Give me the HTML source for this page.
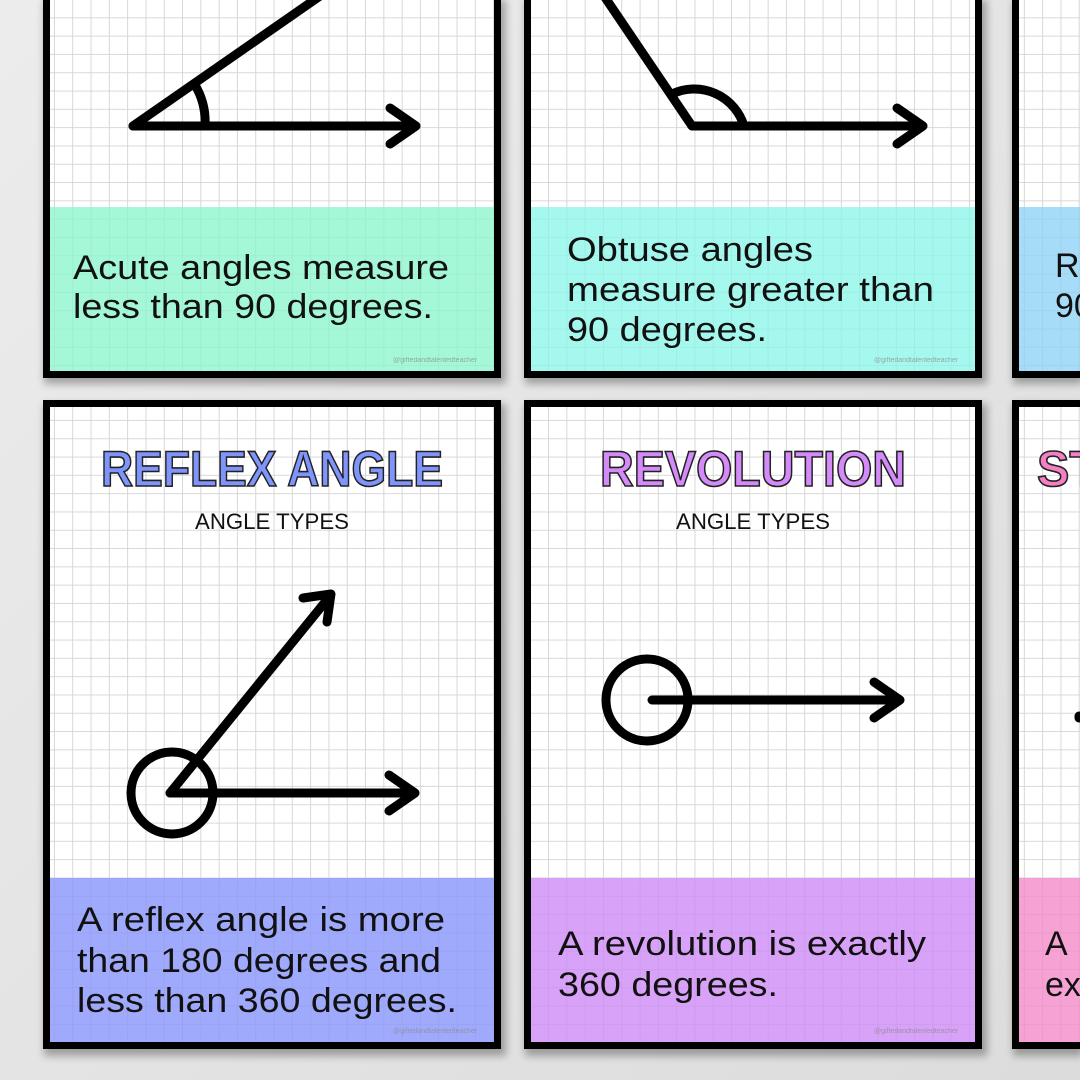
<!DOCTYPE html>
<html><head><meta charset="utf-8"><style>
html,body{margin:0;padding:0;background:#e6e6e6;}
svg{display:block}
</style></head><body>
<svg width="1080" height="1080" viewBox="0 0 1080 1080" xmlns="http://www.w3.org/2000/svg" font-family="Liberation Sans, sans-serif">
<defs>
<pattern id="g" x="0" y="0" width="18.3" height="18.3" patternUnits="userSpaceOnUse">
<path d="M18.3 0V18.3H0" fill="none" stroke="#d4d4d4" stroke-width="1.8"/>
</pattern>
<pattern id="g2" x="0" y="0" width="18.3" height="18.3" patternUnits="userSpaceOnUse">
<path d="M18.3 0V18.3H0" fill="none" stroke="#000" stroke-opacity="0.05" stroke-width="1.6"/>
</pattern>
<linearGradient id="wall" x1="0" y1="0" x2="1" y2="1"><stop offset="0" stop-color="#ececec"/><stop offset="1" stop-color="#dcdcdc"/></linearGradient>
<filter id="blur"><feGaussianBlur stdDeviation="4"/></filter>
</defs>
<rect width="1080" height="1080" fill="url(#wall)"/>
<g fill="#000" opacity="0.3" filter="url(#blur)">
<rect x="44" y="0" width="462" height="384"/><rect x="525" y="0" width="462" height="384"/><rect x="1013" y="0" width="70" height="384"/>
<rect x="44" y="404" width="462" height="652"/><rect x="525" y="404" width="462" height="652"/><rect x="1013" y="404" width="70" height="652"/>
</g>
<g stroke="#000" stroke-width="7">
<rect x="46.5" y="-10" width="451" height="384.5" fill="#fff"/>
<rect x="527.5" y="-10" width="451" height="384.5" fill="#fff"/>
<rect x="1015.5" y="-10" width="120" height="384.5" fill="#fff"/>
<rect x="46.5" y="403.5" width="451" height="642" fill="#fff"/>
<rect x="527.5" y="403.5" width="451" height="642" fill="#fff"/>
<rect x="1015.5" y="403.5" width="120" height="642" fill="#fff"/>
</g>
<rect x="50" y="207" width="444" height="164" fill="#a4f8d8"/>
<rect x="531" y="207" width="444" height="164" fill="#a5f8ee"/>
<rect x="1019" y="207" width="70" height="164" fill="#a6dcf8"/>
<rect x="50" y="878" width="444" height="164" fill="#a0aafc"/>
<rect x="531" y="878" width="444" height="164" fill="#d8a2f9"/>
<rect x="1019" y="878" width="70" height="164" fill="#f6a2d4"/>
<rect x="50" y="0" width="444" height="207" fill="url(#g)"/>
<rect x="531" y="0" width="444" height="207" fill="url(#g)"/>
<rect x="1019" y="0" width="70" height="207" fill="url(#g)"/>
<rect x="50" y="407" width="444" height="471" fill="url(#g)"/>
<rect x="531" y="407" width="444" height="471" fill="url(#g)"/>
<rect x="1019" y="407" width="70" height="471" fill="url(#g)"/>
<rect x="50" y="207" width="444" height="164" fill="url(#g2)"/>
<rect x="531" y="207" width="444" height="164" fill="url(#g2)"/>
<rect x="1019" y="207" width="70" height="164" fill="url(#g2)"/>
<rect x="50" y="878" width="444" height="164" fill="url(#g2)"/>
<rect x="531" y="878" width="444" height="164" fill="url(#g2)"/>
<rect x="1019" y="878" width="70" height="164" fill="url(#g2)"/>
<g fill="none" stroke="#000" stroke-width="9" stroke-linecap="round" stroke-linejoin="round">
<path d="M133 126H416M390 108L416 126L390 144"/>
<path d="M133 126L320 -4"/>
<path d="M195 85A72 72 0 0 1 205 126"/>
<path d="M692 126H923M897 108L923 126L897 144"/>
<path d="M692 126L600 -10"/>
<path d="M672 94A52 52 0 0 1 744 126"/>
<path d="M170 793H415M389 775L415 793L389 811"/>
<path d="M170 793L330 596M303 598L331 594L327 622"/>
<circle cx="172" cy="793" r="41"/>
<circle cx="647" cy="700" r="41"/>
<path d="M652 700H900M874 682L900 700L874 718"/>
<path d="M1079 716v2"/>
</g>
<g font-weight="bold" font-size="50" stroke="#222" stroke-width="1.6" text-anchor="middle">
<text x="272" y="486" fill="#7f95fb" textLength="342" lengthAdjust="spacingAndGlyphs">REFLEX ANGLE</text>
<text x="753" y="486" fill="#d48af9" textLength="306" lengthAdjust="spacingAndGlyphs">REVOLUTION</text>
<text x="1037" y="486" fill="#f47fc4" text-anchor="start" textLength="62" lengthAdjust="spacingAndGlyphs">ST</text>
</g>
<g font-size="22" fill="#111" text-anchor="middle">
<text x="272" y="529" textLength="154" lengthAdjust="spacingAndGlyphs">ANGLE TYPES</text>
<text x="753" y="529" textLength="154" lengthAdjust="spacingAndGlyphs">ANGLE TYPES</text>
</g>
<g font-size="34" fill="#111">
<text x="73" y="279" textLength="376" lengthAdjust="spacingAndGlyphs">Acute angles measure</text>
<text x="73" y="318" textLength="360" lengthAdjust="spacingAndGlyphs">less than 90 degrees.</text>
<text x="567" y="261" textLength="246" lengthAdjust="spacingAndGlyphs">Obtuse angles</text>
<text x="567" y="301" textLength="367" lengthAdjust="spacingAndGlyphs">measure greater than</text>
<text x="567" y="341" textLength="200" lengthAdjust="spacingAndGlyphs">90 degrees.</text>
<text x="1055" y="277">Ri</text>
<text x="1055" y="317">90</text>
<text x="77" y="931" textLength="368" lengthAdjust="spacingAndGlyphs">A reflex angle is more</text>
<text x="77" y="972" textLength="364" lengthAdjust="spacingAndGlyphs">than 180 degrees and</text>
<text x="77" y="1012" textLength="380" lengthAdjust="spacingAndGlyphs">less than 360 degrees.</text>
<text x="558" y="955" textLength="368" lengthAdjust="spacingAndGlyphs">A revolution is exactly</text>
<text x="558" y="996" textLength="220" lengthAdjust="spacingAndGlyphs">360 degrees.</text>
<text x="1045" y="955">A</text>
<text x="1045" y="996">ex</text>
</g>
<g font-size="7" fill="#888" opacity="0.7">
<text x="393" y="362">@giftedandtalentedteacher</text>
<text x="874" y="362">@giftedandtalentedteacher</text>
<text x="393" y="1033">@giftedandtalentedteacher</text>
<text x="874" y="1033">@giftedandtalentedteacher</text>
</g>
</svg>
</body></html>
